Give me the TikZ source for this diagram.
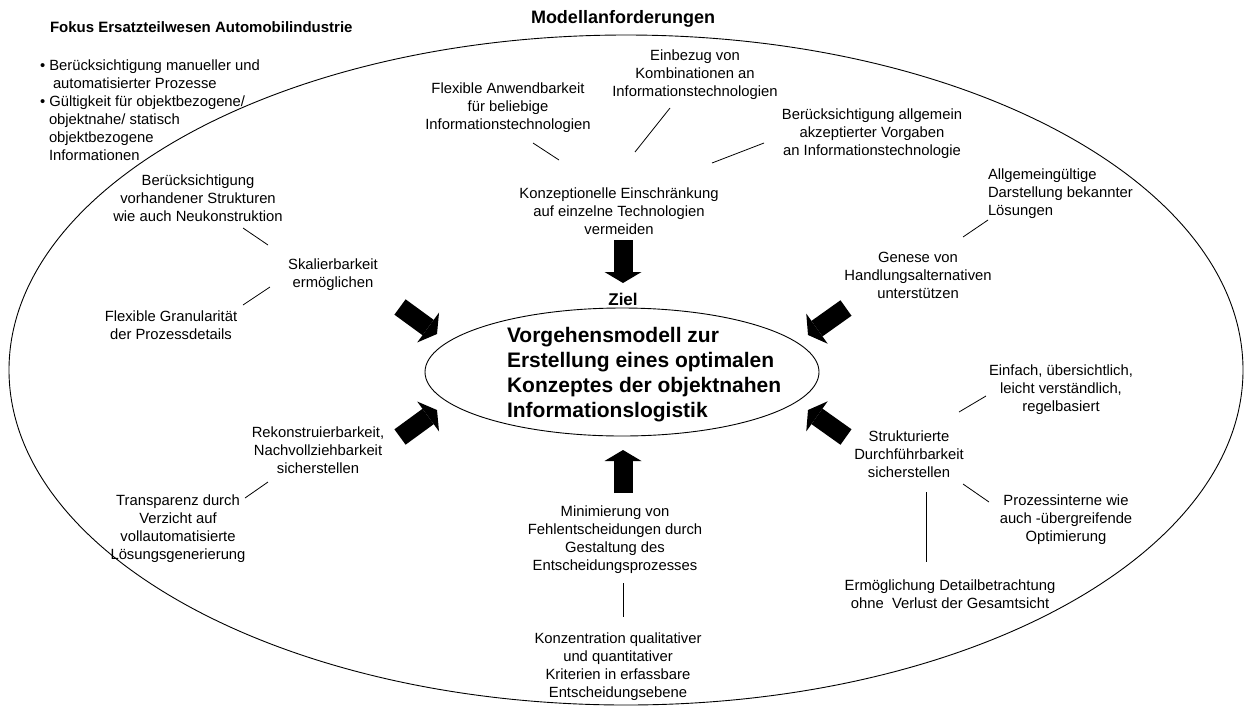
\documentclass[tikz,border=0pt]{standalone}
\usepackage{fontspec}
\setmainfont{Liberation Sans}
\usetikzlibrary{shapes.geometric,arrows.meta}
\begin{document}
\begin{tikzpicture}[x=1pt,y=-1pt,
  every node/.style={inner sep=0pt, outer sep=0pt},
  txt/.style={font=\fontsize{14.8}{18}\selectfont, align=center},
  txtleft/.style={font=\fontsize{14.8}{18}\selectfont, align=left},
  heading/.style={font=\bfseries\fontsize{15}{18}\selectfont},
  bighead/.style={font=\bfseries\fontsize{18}{22}\selectfont},
  goaltxt/.style={font=\bfseries\fontsize{21}{25}\selectfont, align=left},
  rim/.style={line width=0.9pt},
  conn/.style={line width=0.8pt},
  bigarrow/.style={line width=19pt, -{Triangle[width=37pt,length=11pt,line width=0pt]}}
]
\useasboundingbox[fill=white] (0,0) rectangle (1244,713);

% frame of the requirements
\draw[rim] (626,370) ellipse [x radius=617pt, y radius=335pt];

% headings
\node[heading, anchor=west] (fokus) at (50,27) {Fokus Ersatzteilwesen Automobilindustrie};
\node[bighead] (modell) at (623,19) {Modellanforderungen};
\node[txtleft, anchor=west] (fokuslist) at (40,110) {%
  • Berücksichtigung manueller und\\
  \hspace*{13pt}automatisierter Prozesse\\
  • Gültigkeit für objektbezogene/\\
  \hspace*{9pt}objektnahe/ statisch\\
  \hspace*{9pt}objektbezogene\\
  \hspace*{9pt}Informationen};

% goal in the middle
\node[draw, rim, ellipse, minimum width=394pt, minimum height=128pt] (goal) at (622,372) {};
\node[goaltxt, anchor=west] (goaltext) at (507,375) {Vorgehensmodell zur\\Erstellung eines optimalen\\Konzeptes der objektnahen\\Informationslogistik};
\node[font=\bfseries\fontsize{17}{20}\selectfont] (ziel) at (623,299) {Ziel};

% top group
\node[txt] (konzept) at (619,211) {Konzeptionelle Einschränkung\\auf einzelne Technologien\\vermeiden};
\node[txt] (flexanw) at (508,108) {Flexible Anwendbarkeit\\für beliebige\\Informationstechnologien};
\node[txt] (einbezug) at (695,75) {Einbezug von\\Kombinationen an\\Informationstechnologien};
\node[txt] (vorgaben) at (872,134) {Berücksichtigung allgemein\\akzeptierter Vorgaben\\an Informationstechnologie};

% upper right group
\node[txt] (genese) at (918,275) {Genese von\\Handlungsalternativen\\unterstützen};
\node[txtleft, anchor=west] (allgemein) at (988,194) {Allgemeingültige\\Darstellung bekannter\\Lösungen};

% upper left group
\node[txt] (skalier) at (333,275) {Skalierbarkeit\\ermöglichen};
\node[txt] (vorhanden) at (198,198) {Berücksichtigung\\vorhandener Strukturen\\wie auch Neukonstruktion};
\node[txt] (granular) at (171,325) {Flexible Granularität\\der Prozessdetails};

% lower left group
\node[txt] (rekon) at (318,450) {Rekonstruierbarkeit,\\Nachvollziehbarkeit\\sicherstellen};
\node[txt] (transp) at (178,529) {Transparenz durch\\Verzicht auf\\vollautomatisierte\\Lösungsgenerierung};

% bottom group
\node[txt] (minim) at (615,540) {Minimierung von\\Fehlentscheidungen durch\\Gestaltung des\\Entscheidungsprozesses};
\node[txt] (konzentr) at (618,667) {Konzentration qualitativer\\und quantitativer\\Kriterien in erfassbare\\Entscheidungsebene};

% lower right group
\node[txt] (struktur) at (909,454) {Strukturierte\\Durchführbarkeit\\sicherstellen};
\node[txt] (einfach) at (1061,390) {Einfach, übersichtlich,\\leicht verständlich,\\regelbasiert};
\node[txt] (prozess) at (1066,520) {Prozessinterne wie\\auch -übergreifende\\Optimierung};
\node[txt] (detail) at (950,594) {Ermöglichung Detailbetrachtung\\ohne\ \ Verlust der Gesamtsicht};

% connector end points
\coordinate (c1a) at (533,143); \coordinate (c1b) at (559,160);
\coordinate (c2a) at (670,108); \coordinate (c2b) at (635,152);
\coordinate (c3a) at (764,143); \coordinate (c3b) at (712,163);
\coordinate (c4a) at (988,220); \coordinate (c4b) at (963,237);
\coordinate (c5a) at (243,228); \coordinate (c5b) at (268,245);
\coordinate (c6a) at (270,287); \coordinate (c6b) at (243,305);
\coordinate (c7a) at (268,482); \coordinate (c7b) at (245,498);
\coordinate (c8a) at (623,583); \coordinate (c8b) at (623,617);
\coordinate (c9a) at (986,396); \coordinate (c9b) at (959,412);
\coordinate (c10a) at (963,484); \coordinate (c10b) at (989,502);
\coordinate (c11a) at (926,492); \coordinate (c11b) at (926,562);

\foreach \i in {1,...,11} {\draw[conn] (c\i a) -- (c\i b);}

% block arrows towards the goal
\coordinate (aTs) at (623,240); \coordinate (aTe) at (623,283);
\coordinate (aBs) at (623,493); \coordinate (aBe) at (623,450);
\coordinate (aULs) at (400,307); \coordinate (aULe) at (437,334);
\coordinate (aLLs) at (400,437); \coordinate (aLLe) at (437,410);
\coordinate (aURs) at (846,308); \coordinate (aURe) at (808,335);
\coordinate (aLRs) at (846,437); \coordinate (aLRe) at (808,410);

\draw[bigarrow] (aTs) -- (aTe);
\draw[bigarrow] (aBs) -- (aBe);
\draw[bigarrow] (aULs) -- (aULe);
\draw[bigarrow] (aLLs) -- (aLLe);
\draw[bigarrow] (aURs) -- (aURe);
\draw[bigarrow] (aLRs) -- (aLRe);
\end{tikzpicture}
\end{document}
